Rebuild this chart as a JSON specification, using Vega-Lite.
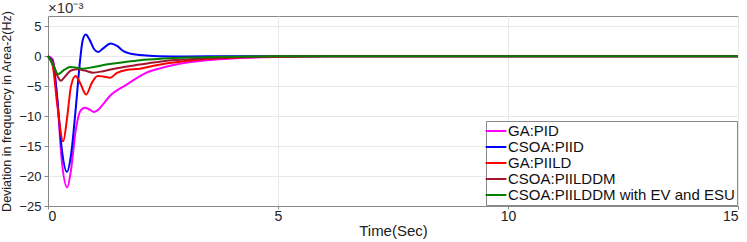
{
  "$schema": "https://vega.github.io/schema/vega-lite/v6.json",
  "width": 690,
  "height": 190,
  "autosize": {"type": "none"},
  "padding": {"left": 48, "top": 16, "right": 9, "bottom": 36},
  "background": "white",
  "title": {"text": "×10⁻³", "anchor": "start", "frame": "group", "font": "Liberation Sans", "fontSize": 15, "fontWeight": "normal", "color": "#333", "offset": 0, "dy": 21, "baseline": "bottom"},
  "config": {
    "font": "Liberation Sans",
    "view": {"stroke": "#888", "strokeWidth": 1},
    "axis": {"labelFont": "Liberation Sans", "titleFont": "Liberation Sans", "labelFontSize": 13, "titleFontSize": 15, "titleFontWeight": "normal", "labelColor": "#222", "titleColor": "#222", "domainColor": "#888", "tickColor": "#888", "gridColor": "#e8e8e8"}
  },
  "data": {"values": [
    {"t":0,"v":0,"s":"GA:PID"},{"t":0.1,"v":-0.5,"s":"GA:PID"},{"t":0.2,"v":-7,"s":"GA:PID"},{"t":0.3,"v":-17.5,"s":"GA:PID"},{"t":0.42,"v":-21.9,"s":"GA:PID"},{"t":0.5,"v":-19,"s":"GA:PID"},{"t":0.6,"v":-12.5,"s":"GA:PID"},{"t":0.7,"v":-9.2,"s":"GA:PID"},{"t":0.8,"v":-8.6,"s":"GA:PID"},{"t":0.9,"v":-8.9,"s":"GA:PID"},{"t":1.0,"v":-9.3,"s":"GA:PID"},{"t":1.1,"v":-8.9,"s":"GA:PID"},{"t":1.2,"v":-8.0,"s":"GA:PID"},{"t":1.35,"v":-6.6,"s":"GA:PID"},{"t":1.5,"v":-5.7,"s":"GA:PID"},{"t":1.7,"v":-4.8,"s":"GA:PID"},{"t":1.9,"v":-3.8,"s":"GA:PID"},{"t":2.1,"v":-2.9,"s":"GA:PID"},{"t":2.5,"v":-1.9,"s":"GA:PID"},{"t":3.0,"v":-1.1,"s":"GA:PID"},{"t":3.5,"v":-0.65,"s":"GA:PID"},{"t":4.0,"v":-0.38,"s":"GA:PID"},{"t":5,"v":-0.12,"s":"GA:PID"},{"t":6,"v":-0.03,"s":"GA:PID"},{"t":7,"v":0,"s":"GA:PID"},{"t":15,"v":0,"s":"GA:PID"},
    {"t":0,"v":0,"s":"CSOA:PIID"},{"t":0.1,"v":-0.8,"s":"CSOA:PIID"},{"t":0.2,"v":-7,"s":"CSOA:PIID"},{"t":0.3,"v":-15.5,"s":"CSOA:PIID"},{"t":0.41,"v":-19.3,"s":"CSOA:PIID"},{"t":0.5,"v":-16.5,"s":"CSOA:PIID"},{"t":0.6,"v":-9,"s":"CSOA:PIID"},{"t":0.7,"v":-0.5,"s":"CSOA:PIID"},{"t":0.75,"v":2.5,"s":"CSOA:PIID"},{"t":0.82,"v":3.6,"s":"CSOA:PIID"},{"t":0.9,"v":2.8,"s":"CSOA:PIID"},{"t":1.0,"v":1.2,"s":"CSOA:PIID"},{"t":1.09,"v":0.7,"s":"CSOA:PIID"},{"t":1.2,"v":1.3,"s":"CSOA:PIID"},{"t":1.36,"v":2.1,"s":"CSOA:PIID"},{"t":1.5,"v":1.7,"s":"CSOA:PIID"},{"t":1.65,"v":0.8,"s":"CSOA:PIID"},{"t":1.8,"v":0.4,"s":"CSOA:PIID"},{"t":2.0,"v":0.2,"s":"CSOA:PIID"},{"t":2.4,"v":0.0,"s":"CSOA:PIID"},{"t":3,"v":-0.05,"s":"CSOA:PIID"},{"t":4,"v":0,"s":"CSOA:PIID"},{"t":15,"v":0,"s":"CSOA:PIID"},
    {"t":0,"v":0,"s":"GA:PIILD"},{"t":0.1,"v":-1.5,"s":"GA:PIILD"},{"t":0.2,"v":-8,"s":"GA:PIILD"},{"t":0.33,"v":-14.2,"s":"GA:PIILD"},{"t":0.42,"v":-10,"s":"GA:PIILD"},{"t":0.5,"v":-5,"s":"GA:PIILD"},{"t":0.6,"v":-3.3,"s":"GA:PIILD"},{"t":0.7,"v":-4.5,"s":"GA:PIILD"},{"t":0.83,"v":-6.4,"s":"GA:PIILD"},{"t":0.95,"v":-4.5,"s":"GA:PIILD"},{"t":1.08,"v":-3.3,"s":"GA:PIILD"},{"t":1.2,"v":-3.4,"s":"GA:PIILD"},{"t":1.35,"v":-3.6,"s":"GA:PIILD"},{"t":1.5,"v":-2.8,"s":"GA:PIILD"},{"t":1.7,"v":-2.3,"s":"GA:PIILD"},{"t":2.0,"v":-2.1,"s":"GA:PIILD"},{"t":2.3,"v":-1.6,"s":"GA:PIILD"},{"t":2.6,"v":-1.2,"s":"GA:PIILD"},{"t":3.0,"v":-0.8,"s":"GA:PIILD"},{"t":3.5,"v":-0.45,"s":"GA:PIILD"},{"t":4.0,"v":-0.25,"s":"GA:PIILD"},{"t":5,"v":-0.08,"s":"GA:PIILD"},{"t":6,"v":0,"s":"GA:PIILD"},{"t":15,"v":0,"s":"GA:PIILD"},
    {"t":0,"v":0,"s":"CSOA:PIILDDM"},{"t":0.1,"v":-1,"s":"CSOA:PIILDDM"},{"t":0.2,"v":-3.2,"s":"CSOA:PIILDDM"},{"t":0.28,"v":-4.1,"s":"CSOA:PIILDDM"},{"t":0.38,"v":-3.3,"s":"CSOA:PIILDDM"},{"t":0.5,"v":-2.4,"s":"CSOA:PIILDDM"},{"t":0.65,"v":-2.2,"s":"CSOA:PIILDDM"},{"t":0.8,"v":-2.4,"s":"CSOA:PIILDDM"},{"t":0.98,"v":-2.75,"s":"CSOA:PIILDDM"},{"t":1.2,"v":-2.5,"s":"CSOA:PIILDDM"},{"t":1.5,"v":-2.0,"s":"CSOA:PIILDDM"},{"t":2.0,"v":-1.4,"s":"CSOA:PIILDDM"},{"t":2.5,"v":-0.85,"s":"CSOA:PIILDDM"},{"t":3.0,"v":-0.55,"s":"CSOA:PIILDDM"},{"t":3.5,"v":-0.35,"s":"CSOA:PIILDDM"},{"t":4.0,"v":-0.2,"s":"CSOA:PIILDDM"},{"t":5,"v":-0.06,"s":"CSOA:PIILDDM"},{"t":6,"v":0,"s":"CSOA:PIILDDM"},{"t":15,"v":0,"s":"CSOA:PIILDDM"},
    {"t":0,"v":0,"s":"CSOA:PIILDDM with EV and ESU"},{"t":0.1,"v":-1.3,"s":"CSOA:PIILDDM with EV and ESU"},{"t":0.22,"v":-3.0,"s":"CSOA:PIILDDM with EV and ESU"},{"t":0.35,"v":-2.3,"s":"CSOA:PIILDDM with EV and ESU"},{"t":0.48,"v":-1.8,"s":"CSOA:PIILDDM with EV and ESU"},{"t":0.6,"v":-1.9,"s":"CSOA:PIILDDM with EV and ESU"},{"t":0.75,"v":-2.1,"s":"CSOA:PIILDDM with EV and ESU"},{"t":1.0,"v":-1.8,"s":"CSOA:PIILDDM with EV and ESU"},{"t":1.3,"v":-1.35,"s":"CSOA:PIILDDM with EV and ESU"},{"t":1.6,"v":-1.05,"s":"CSOA:PIILDDM with EV and ESU"},{"t":2.0,"v":-0.67,"s":"CSOA:PIILDDM with EV and ESU"},{"t":2.5,"v":-0.4,"s":"CSOA:PIILDDM with EV and ESU"},{"t":3.0,"v":-0.22,"s":"CSOA:PIILDDM with EV and ESU"},{"t":3.8,"v":-0.1,"s":"CSOA:PIILDDM with EV and ESU"},{"t":5,"v":0,"s":"CSOA:PIILDDM with EV and ESU"},{"t":15,"v":0,"s":"CSOA:PIILDDM with EV and ESU"}
  ]},
  "mark": {"type": "line", "interpolate": "monotone", "strokeWidth": 2},
  "encoding": {
    "x": {"field": "t", "type": "quantitative", "scale": {"domain": [0, 15], "nice": false}, "axis": {"values": [0, 5, 10, 15], "title": "Time(Sec)", "tickSize": 3, "labelPadding": 0, "titlePadding": 0, "labelFontSize": 14}},
    "y": {"field": "v", "type": "quantitative", "scale": {"domain": [-25, 6.7], "nice": false, "zero": false}, "axis": {"values": [-25, -20, -15, -10, -5, 0, 5], "title": "Deviation in frequency in Area-2(Hz)", "titleFontSize": 12.5, "tickSize": 4, "labelPadding": 3, "titlePadding": 5}},
    "color": {"field": "s", "type": "nominal", "sort": null,
      "scale": {"domain": ["GA:PID", "CSOA:PIID", "GA:PIILD", "CSOA:PIILDDM", "CSOA:PIILDDM with EV and ESU"], "range": ["#FF00FF", "#0000FF", "#FF0000", "#A2142F", "#008000"]},
      "legend": {"title": null, "orient": "bottom-right", "offset": 1, "symbolType": "M-1.5,0H1.5", "symbolStrokeWidth": 2, "symbolSize": 190, "labelFontSize": 15, "labelLimit": 400, "labelFont": "Liberation Sans", "labelColor": "#111", "strokeColor": "#888", "fillColor": "white", "padding": 2, "rowPadding": -3, "labelOffset": 4}
    }
  }
}
